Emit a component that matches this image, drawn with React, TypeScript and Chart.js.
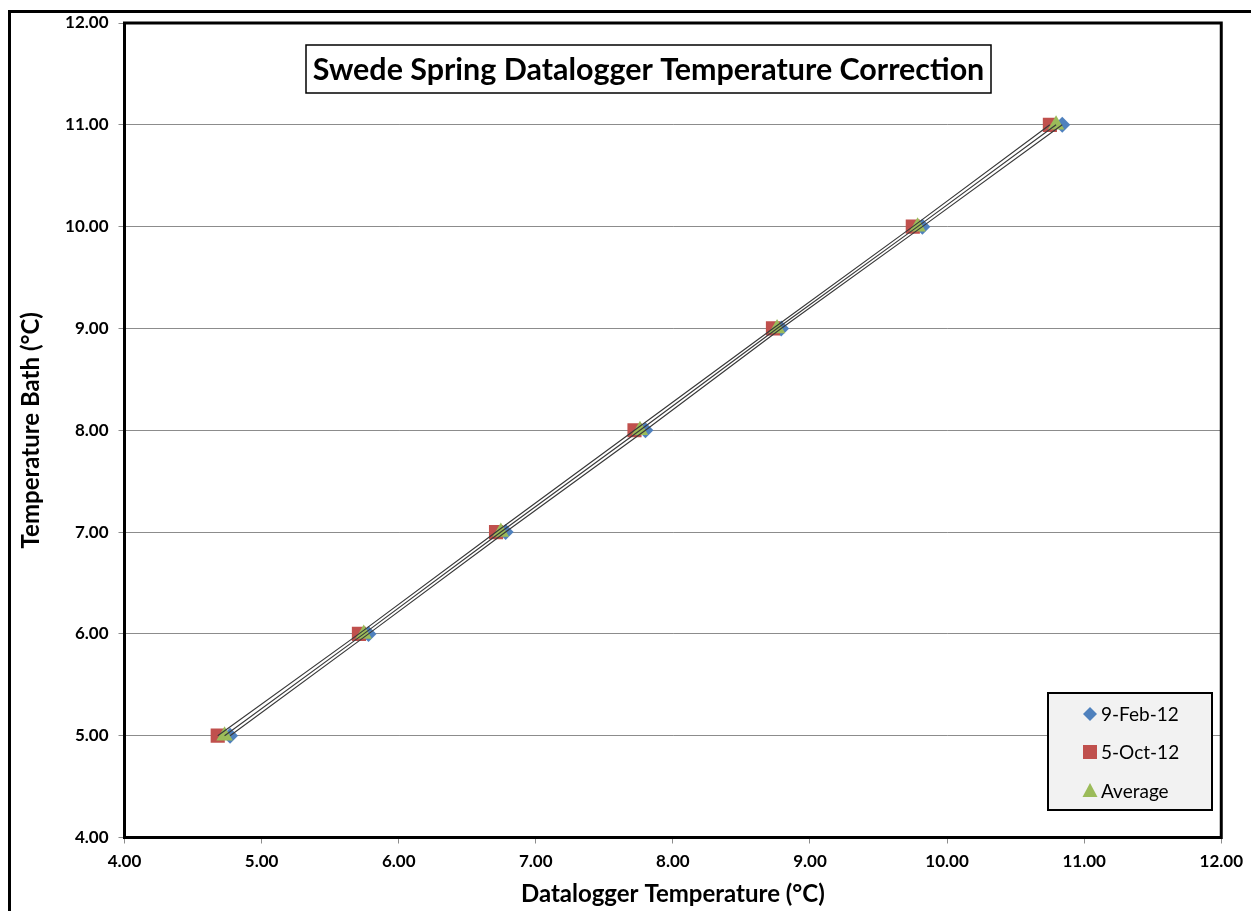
import React, { useEffect, useRef } from "react";
import { Chart, registerables } from "chart.js";

Chart.register(...registerables);

const bathTemps = [5, 6, 7, 8, 9, 10, 11];
const feb2012 = [4.77, 5.78, 6.78, 7.8, 8.79, 9.82, 10.84];
const oct2012 = [4.68, 5.71, 6.71, 7.72, 8.73, 9.75, 10.75];
const average = [4.73, 5.745, 6.745, 7.76, 8.76, 9.785, 10.795];
const seriesLabels = ["9-Feb-12", "5-Oct-12", "Average"];
const seriesColors = ["#4F81BD", "#C0504D", "#9BBB59"];
const pointStyles = ["rectRot", "rect", "triangle"];
const pointRadii = [8, 10, 9.5];
const titleText = "Swede Spring Datalogger Temperature Correction";
const xTitle = "Datalogger Temperature (°C)";
const yTitle = "Temperature Bath (°C)";

const FONT = "Lato";

function toPoints(xs: number[]) {
  return xs.map((x, i) => ({ x, y: bathTemps[i] }));
}

const decorPlugin = {
  id: "decor",
  afterDraw(chart: any) {
    const ctx = chart.ctx as CanvasRenderingContext2D;
    const a = chart.chartArea;
    ctx.save();
    // plot border
    ctx.strokeStyle = "#000";
    ctx.lineWidth = 3;
    ctx.strokeRect(a.left, a.top, a.right - a.left, a.bottom - a.top);
    // outer chart border (left + top)
    ctx.lineWidth = 3;
    ctx.beginPath();
    ctx.moveTo(9.5, 920);
    ctx.lineTo(9.5, 11.5);
    ctx.lineTo(1260, 11.5);
    ctx.stroke();

    // title box
    const bx = 306, by = 45, bw = 685, bh = 48;
    ctx.fillStyle = "#fff";
    ctx.fillRect(bx, by, bw, bh);
    ctx.lineWidth = 1.5;
    ctx.strokeRect(bx, by, bw, bh);
    ctx.font = `bold 30px ${FONT}`;
    const w = ctx.measureText(titleText).width;
    const size = (30 * 672) / w;
    ctx.font = `bold ${size}px ${FONT}`;
    ctx.fillStyle = "#000";
    ctx.textAlign = "center";
    ctx.textBaseline = "middle";
    ctx.fillText(titleText, bx + bw / 2, by + bh / 2 + 1);

    // legend
    const lx = 1048, ly = 693, lw = 164, lh = 117;
    ctx.fillStyle = "#f2f2f2";
    ctx.fillRect(lx, ly, lw, lh);
    ctx.lineWidth = 2;
    ctx.strokeStyle = "#000";
    ctx.strokeRect(lx, ly, lw, lh);
    const rows = [714, 752, 791];
    ctx.font = `19px ${FONT}`;
    ctx.textAlign = "left";
    ctx.textBaseline = "middle";
    for (let i = 0; i < 3; i++) {
      const cx = 1090, cy = rows[i];
      ctx.fillStyle = seriesColors[i];
      ctx.beginPath();
      if (i === 0) {
        ctx.moveTo(cx, cy - 7);
        ctx.lineTo(cx + 7, cy);
        ctx.lineTo(cx, cy + 7);
        ctx.lineTo(cx - 7, cy);
        ctx.closePath();
      } else if (i === 1) {
        ctx.rect(cx - 7, cy - 7, 14, 14);
      } else {
        ctx.moveTo(cx, cy - 8);
        ctx.lineTo(cx + 7.5, cy + 6);
        ctx.lineTo(cx - 7.5, cy + 6);
        ctx.closePath();
      }
      ctx.fill();
      ctx.fillStyle = "#000";
      ctx.fillText(seriesLabels[i], 1101, cy + 1);
    }
    ctx.restore();
  },
};

export default function App() {
  const ref = useRef<HTMLCanvasElement>(null);
  useEffect(() => {
    if (!ref.current) return;
    const seriesData = [feb2012, oct2012, average];
    const markerOrders = [4, 3, 2];
    const markerSets = seriesData.map((d, i) => ({
      label: seriesLabels[i],
      data: toPoints(d),
      showLine: false,
      pointStyle: pointStyles[i],
      pointRadius: pointRadii[i],
      pointHoverRadius: pointRadii[i],
      pointBackgroundColor: seriesColors[i],
      pointBorderColor: seriesColors[i],
      pointBorderWidth: 0,
      backgroundColor: seriesColors[i],
      borderColor: seriesColors[i],
      order: markerOrders[i],
    }));
    const lineSets = seriesData.map((d, i) => ({
      label: seriesLabels[i] + " trend",
      data: toPoints(d),
      showLine: true,
      pointRadius: 0,
      borderColor: "#3a3a3a",
      borderWidth: 1.2,
      order: 1,
    }));
    const chart = new Chart(ref.current, {
      type: "scatter",
      data: { datasets: [...markerSets, ...lineSets] as any },
      options: {
        animation: false,
        responsive: false,
        layout: { padding: { left: 0, top: 23, right: 29.5, bottom: 0 } },
        plugins: { legend: { display: false }, tooltip: { enabled: false } },
        scales: {
          x: {
            type: "linear",
            min: 4,
            max: 12,
            afterFit: (s: any) => {
              s.height = 73.5;
            },
            ticks: {
              stepSize: 1,
              callback: (v: any) => Number(v).toFixed(2),
              font: { family: FONT, size: 17, weight: "bold" },
              color: "#000",
              padding: 8,
              maxRotation: 0,
            },
            grid: {
              drawOnChartArea: false,
              drawTicks: true,
              tickLength: 6,
              color: "#8c8c8c",
            },
            border: { display: false },
            title: {
              display: true,
              text: xTitle,
              font: { family: FONT, size: 24, weight: "bold" },
              color: "#000",
              padding: { top: 0, bottom: 2 },
            },
          },
          y: {
            type: "linear",
            min: 4,
            max: 12,
            afterFit: (s: any) => {
              s.width = 124.5;
            },
            ticks: {
              stepSize: 1,
              callback: (v: any) => Number(v).toFixed(2),
              font: { family: FONT, size: 17, weight: "bold" },
              color: "#000",
              padding: 10,
            },
            grid: {
              drawOnChartArea: true,
              drawTicks: true,
              tickLength: 6,
              color: "#8c8c8c",
            },
            border: { display: false },
            title: {
              display: true,
              text: yTitle,
              font: { family: FONT, size: 24, weight: "bold" },
              color: "#000",
              padding: { top: 17, bottom: 0 },
            },
          },
        },
      },
      plugins: [decorPlugin],
    });
    return () => chart.destroy();
  }, []);
  return (
    <div style={{ position: "absolute", left: 0, top: 0, width: 1251, height: 911, background: "#fff" }}>
      <canvas ref={ref} width={1251} height={911} style={{ display: "block" }} />
    </div>
  );
}
